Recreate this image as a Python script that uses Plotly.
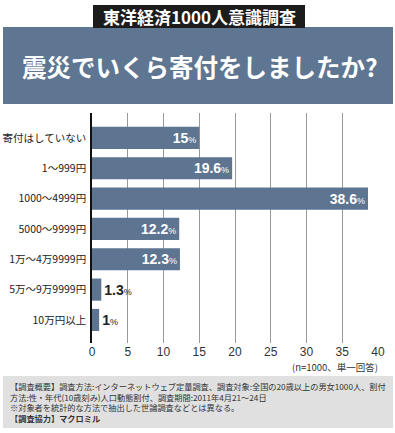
import plotly.graph_objects as go

categories = ["寄付はしていない", "1～999円", "1000～4999円", "5000～9999円",
              "1万～4万9999円", "5万～9万9999円", "10万円以上"]
values = [15, 19.6, 38.6, 12.2, 12.3, 1.3, 1]
value_labels = ["15", "19.6", "38.6", "12.2", "12.3", "1.3", "1"]
x_ticks = [0, 5, 10, 15, 20, 25, 30, 35, 40]

W, H = 395, 433
L, R, T, B = 92, 17, 113, 90
PW, PH = W - L - R, H - T - B

def px_x(x):
    return (x - L) / PW

def px_y(y):
    return (H - B - y) / PH

BAR = "#5d7591"
JP = "Noto Sans CJK JP"

inside = [v > 5 for v in values]
texts = [f"<b>{lab}</b><span style='font-size:9px'>%</span>" for lab in value_labels]

fig = go.Figure()
fig.add_trace(go.Bar(
    x=values, y=categories, orientation="h",
    marker=dict(color=BAR, line=dict(width=0)),
    text=texts,
    textposition=["inside" if i else "outside" for i in inside],
    insidetextanchor="end",
    textfont=dict(family="Liberation Sans Narrow, Liberation Sans, Arial", size=14,
                  color=["white" if i else "#222222" for i in inside]),
    constraintext="none",
    cliponaxis=False,
    hoverinfo="skip",
))

fig.update_layout(
    width=W, height=H,
    margin=dict(l=L, r=R, t=T, b=B, autoexpand=False),
    paper_bgcolor="white", plot_bgcolor="white",
    bargap=0.27,
    showlegend=False,
    xaxis=dict(range=[0, 40], tickvals=x_ticks, showgrid=True, gridcolor="#999999",
               gridwidth=1, zeroline=False, showline=False, automargin=False,
               tickfont=dict(family="Liberation Sans, Arial", size=12, color="#333333"),
               ticks="", fixedrange=True),
    yaxis=dict(categoryorder="array", categoryarray=categories,
               range=[6.76, -0.82], showgrid=False, zeroline=False, automargin=False,
               showline=True, linecolor="#111111", linewidth=1.5,
               tickfont=dict(family=JP, size=10.5, color="#222222"),
               ticks="", ticklabelstandoff=2, fixedrange=True),
    font=dict(family=JP),
)

shapes = [
    # banner
    dict(type="rect", xref="paper", yref="paper",
         x0=px_x(3), x1=px_x(393), y0=px_y(104), y1=px_y(27),
         fillcolor="#5e7691", line=dict(width=0), layer="below"),
    # tag
    dict(type="rect", xref="paper", yref="paper",
         x0=px_x(93), x1=px_x(305), y0=px_y(28), y1=px_y(5),
         fillcolor="#1c1c1c", line=dict(width=0)),
    # footer box
    dict(type="rect", xref="paper", yref="paper",
         x0=px_x(3), x1=px_x(393), y0=px_y(428), y1=px_y(376),
         fillcolor="#e0e0e0", line=dict(width=0), layer="below"),
]
fig.update_layout(shapes=shapes)

anns = [
    dict(text="<b>東洋経済1000人意識調査</b>", x=px_x(199), y=px_y(17),
         font=dict(family=JP, size=17, color="white")),
    dict(text="<b>震災でいくら寄付をしましたか?</b>", x=px_x(200), y=px_y(66),
         font=dict(family=JP, size=24.5, color="white")),
    dict(text="(n=1000、単一回答)", x=px_x(380), y=px_y(367), xanchor="right",
         font=dict(family=JP, size=9.5, color="#333333")),
    dict(text=("【調査概要】調査方法:インターネットウェブ定量調査、調査対象:全国の20歳以上の男女1000人、割付<br>"
               "方法:性・年代(10歳刻み)人口動態割付、調査期間:2011年4月21～24日<br>"
               "※対象者を統計的な方法で抽出した世論調査などとは異なる。<br>"
               "<b>【調査協力】マクロミル</b>"),
         x=px_x(8), y=px_y(378), xanchor="left", yanchor="top", align="left",
         font=dict(family=JP, size=8.2, color="#333333")),
]
for a in anns:
    a.setdefault("xanchor", "center")
    a.setdefault("yanchor", "middle")
    fig.add_annotation(xref="paper", yref="paper", showarrow=False, **a)

fig.write_html("out.html", config={"displayModeBar": False},
               post_script="document.body.style.margin='0px';document.body.style.overflow='hidden';")
